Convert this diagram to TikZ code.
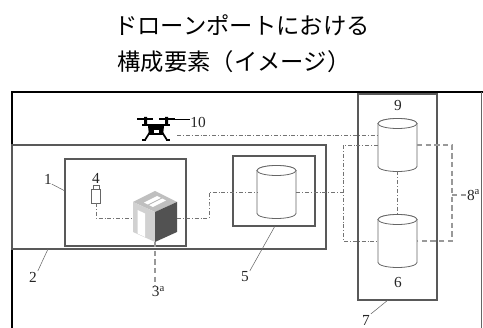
\documentclass[tikz,border=0pt]{standalone}
\usepackage{fontspec}
\setmainfont{Liberation Serif}
\newfontfamily\jpfont{Noto Sans CJK JP}

\begin{document}
\begin{tikzpicture}[x=0.75pt,y=-0.75pt]
\tikzstyle{every node}+=[inner sep=0pt, outer sep=0pt]
\tikzstyle{zone}=[draw=black!65, line width=0.9pt]
\tikzstyle{drum}=[minimum width=29.25pt, minimum height=39.75pt]
\tikzstyle{drumline}=[draw=black!60, fill=white, line width=0.6pt]
\tikzstyle{num}=[font=\fontsize{11.5}{13}\selectfont, text=black!85]
\tikzstyle{signal}=[black!55, line width=0.5pt, dash pattern=on 3pt off 1.5pt on 0.6pt off 1.5pt]
\tikzstyle{power}=[black!40, line width=1.4pt, dash pattern=on 4pt off 2.5pt]
\tikzstyle{lead}=[black!60, line width=0.4pt]
\useasboundingbox (0,0) rectangle (483,328);

\node[font=\jpfont\fontsize{17.5}{20}\selectfont] (head1) at (242,25) {ドローンポートにおける};
\node[font=\jpfont\fontsize{17.5}{20}\selectfont] (head2) at (234,62) {構成要素（イメージ）};

\draw [black, line width=1.6pt] (12,330) -- (12,92) -- (483,92);
\draw [black!60, line width=0.5pt] (481,92) -- (481,330);

\node[zone, minimum width=235.5pt, minimum height=78pt] (port) at (169,197) {};
\node[zone, minimum width=90.75pt, minimum height=65.25pt] (lot) at (125.5,202.5) {};
\node[zone, line width=1.1pt, minimum width=61.5pt, minimum height=52.5pt] (ctrl) at (274,191) {};
\node[zone, line width=1.1pt, minimum width=59.25pt, minimum height=154.5pt] (srv) at (397.5,197) {};

\node[drum] (c5) at (276.5,192) {};
\node[drum] (c9) at (397.5,145) {};
\node[drum] (c6) at (397.5,241) {};
\foreach \c in {c5,c9,c6} {
  \draw [drumline] ([yshift=-3.75pt]\c.north west) -- ([yshift=3.75pt]\c.south west)
    arc [start angle=180, end angle=0, x radius=19.5, y radius=5]
    -- ([yshift=-3.75pt]\c.north east)
    arc [start angle=0, end angle=-180, x radius=19.5, y radius=5] -- cycle;
  \draw [drumline] ([yshift=-3.75pt]\c.north) ellipse [x radius=19.5, y radius=5];
}

\node[draw=black!60, line width=0.5pt, minimum width=6.75pt, minimum height=10.5pt] (can) at (96,196) {};
\draw [black!60, line width=0.5pt] ([xshift=-2.25pt]can.north) rectangle ([xshift=2.25pt,yshift=2.5pt]can.north);

\coordinate (cube) at (155,212);
\begin{scope}[shift={(cube)}]
\fill [black!25] (0,-21) -- (22,-10) -- (0,0) -- (-22,-10) -- cycle;
\fill [black!18] (-22,-10) -- (0,0) -- (0,30) -- (-22,20) -- cycle;
\fill [black!68] (0,0) -- (22,-10) -- (22,20) -- (0,30) -- cycle;
\fill [white] (11,-11.6) -- (2.2,-16) -- (-11,-9.4) -- (-2.2,-5) -- cycle;
\draw [black!30, line width=0.6pt] (-6.6,-7.2) -- (6.6,-13.8);
\fill [white] (-17.5,-2) -- (-10,1.5) -- (-10,25) -- (-17.5,21.5) -- cycle;
\end{scope}
\coordinate (cubeL) at (133,218);
\coordinate (cubeR) at (177,218);
\coordinate (cubeB) at (155,242);

\coordinate (uav) at (156,130);
\begin{scope}[shift={(uav)}]
\draw [black, line width=1.1pt] (-19,-11) -- (-3,-11) (3,-11) -- (19,-11);
\fill [black] (-12,-13) rectangle (-9,-5) (9,-13) rectangle (12,-5);
\fill [black] (-14,-6) rectangle (14,-3.5);
\fill [black] (-8,-4) -- (8,-4) -- (7,5) -- (-7,5) -- cycle;
\fill [white] (-2.5,0) rectangle (2.5,3.5);
\draw [black, line width=1.3pt] (-6,2) -- (-11,10) (6,2) -- (11,10);
\draw [black, line width=0.8pt] (-14,10) -- (-10,10) (10,10) -- (14,10);
\end{scope}
\coordinate (prop) at (175,119);
\coordinate (dr) at (177,135);

\node[num] (t10) at (198,122) {10};
\node[num] (t1) at (48,179) {1};
\node[num] (t4) at (96,178) {4};
\node[num] (t2) at (33,277) {2};
\node[num] (t5) at (245,277) {5};
\node[num] (t9) at (398,105) {9};
\node[num] (t6) at (398,282) {6};
\node[num] (t7) at (366,320) {7};
\node[num, anchor=north] (t3) at (158.5,286) {3\textsuperscript{a}};
\node[num, anchor=west] (t8) at (467,195) {8\textsuperscript{a}};

\coordinate (k1) at (65,191);
\coordinate (k2) at (48,249);
\coordinate (k5) at (275,226);
\coordinate (k7) at (388,300);
\draw [lead] (t1.south east) -- (k1);
\draw [lead] ([shift={(1,-1)}]t2.north east) -- (k2);
\draw [lead] ([shift={(1,-1)}]t5.north east) -- (k5);
\draw [lead] ([shift={(1,-1)}]t7.north east) -- (k7);
\draw [black, line width=0.6pt] (prop) -- (prop -| t10.west);

\coordinate (jog) at (209,205);
\coordinate (bus) at (343,195);
\coordinate (p8) at (452,195);
\draw [signal] (dr) -- (dr -| c9.west);
\draw [signal] (can.south) |- (cubeL);
\draw [signal] (cubeR) -| (jog) |- (c5.west);
\draw [signal] (c5.east) -- (c5.east -| bus);
\draw [signal] (c9.west) -| (bus) |- (c6.west);
\draw [signal] (c9.south) -- (c6.north);
\draw [power] (c9.east) -| (p8) |- (c6.east);
\draw [power] (p8) -- (t8.west);
\draw [power] (cubeB) -- (cubeB |- t3.north);
\end{tikzpicture}
\end{document}
